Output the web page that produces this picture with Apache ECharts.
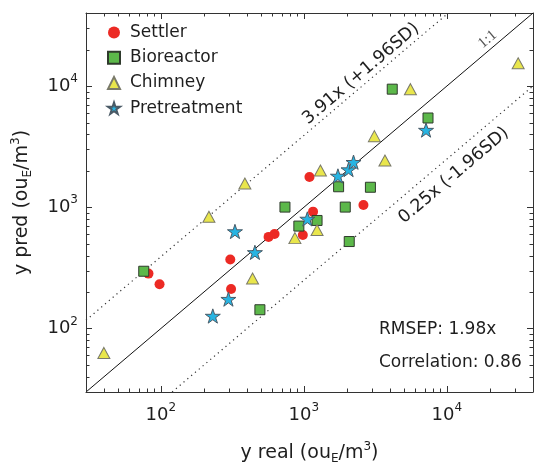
<!DOCTYPE html>
<html>
<head>
<meta charset="utf-8">
<script src="https://cdn.jsdelivr.net/npm/echarts@6/dist/echarts.min.js"></script>
<style>
  html, body { margin: 0; padding: 0; background: #fff; }
  #chart { width: 536px; height: 470px; }
</style>
</head>
<body>
<div id="chart"></div>
<script>
// Measured (real) vs. predicted odour concentration, ouE/m3, by process unit
const settlerReal = [82, 98, 306, 310, 567, 624, 984, 1095, 1160, 2610];
const settlerPred = [284, 232, 371, 212, 570, 603, 592, 1780, 921, 1046];

const bioreactorReal = [76, 493, 738, 923, 1237, 1750, 1948, 2077, 2920, 4150, 7380];
const bioreactorPred = [297, 143, 1004, 700, 779, 1477, 1004, 522, 1463, 9420, 5450];

const chimneyReal = [40, 217, 387, 438, 866, 1237, 1306, 3113, 3690, 5560, 31500];
const chimneyPred = [63, 836, 1571, 259, 557, 650, 2010, 3860, 2430, 9420, 15400];

const pretreatmentReal = [231, 297, 330, 455, 1058, 1731, 2054, 2225, 7150];
const pretreatmentPred = [127, 175, 632, 425, 802, 1814, 2048, 2355, 4335];

// Axis range and labelled decades (both axes share them)
const axisMin = 30;
const axisMax = 40000;
const decadeTicks = [100, 1000, 10000];

// Agreement band: +/-1.96 SD expressed as multiplicative factors
const upperRatio = 3.91;
const lowerRatio = 0.25;
const rmsep = '1.98x';
const correlation = '0.86';

const FONT = 'DejaVu Sans';
const INK = '#1e1e1e';
const STAR = 'path://M95.11,0L117.56,69.1L190.22,69.1L131.44,111.8L153.89,180.9L95.11,138.2L36.33,180.9L58.78,111.8L0,69.1L72.66,69.1Z';

function zip(a, b) { return a.map((v, i) => [v, b[i]]); }

// minor tick positions 2..9 x 10^n inside the axis range
const minorTicks = [];
for (let e = 1; e <= 4; e++) {
  for (let k = 2; k <= 9; k++) {
    const v = k * Math.pow(10, e);
    if (v > axisMin && v < axisMax) minorTicks.push(v);
  }
}
minorTicks.unshift(axisMin); // 3 x 10^1 sits exactly on the frame edge
const minorData = [];
minorTicks.forEach(v => { minorData.push([v, 0]); minorData.push([v, 1]); });

function decadeLabel(v) {
  const e = Math.log10(v);
  const r = Math.round(e);
  if (Math.abs(e - r) > 1e-6 || decadeTicks.indexOf(Math.pow(10, r)) < 0) return '';
  return '{b|10}{s|' + r + '}';
}

const tickRich = {
  b: { fontSize: 18, fontFamily: FONT, color: INK, lineHeight: 26 },
  s: { fontSize: 12, fontFamily: FONT, color: INK, verticalAlign: 'top' }
};
const nameRich = {
  b: { fontSize: 19, fontFamily: FONT, color: INK, lineHeight: 24 },
  sub: { fontSize: 12, fontFamily: FONT, color: INK, verticalAlign: 'bottom' },
  sup: { fontSize: 12, fontFamily: FONT, color: INK, verticalAlign: 'top' }
};

function logAxis(extra) {
  return Object.assign({
    type: 'log',
    logBase: 10,
    min: axisMin,
    max: axisMax,
    axisLine: { show: true, lineStyle: { color: '#333', width: 1 } },
    axisTick: { show: true, inside: true, length: 6, lineStyle: { color: '#333', width: 1 } },
    splitLine: { show: false },
    minorTick: { show: false },
    minorSplitLine: { show: false }
  }, extra);
}

function renderMinorTick(params, api) {
  const v = api.value(0);
  const onX = api.value(1) === 0;
  const cs = params.coordSys;
  const L = 3.5;
  const st = { stroke: '#333', lineWidth: 1 };
  if (onX) {
    const px = Math.round(api.coord([v, axisMin])[0]) + 0.5;
    const yb = cs.y + cs.height, yt = cs.y;
    return { type: 'group', children: [
      { type: 'line', shape: { x1: px, y1: yb, x2: px, y2: yb - L }, style: st },
      { type: 'line', shape: { x1: px, y1: yt, x2: px, y2: yt + L }, style: st }
    ] };
  }
  const py = Math.round(api.coord([axisMin, v])[1]) + 0.5;
  const xl = cs.x, xr = cs.x + cs.width;
  return { type: 'group', children: [
    { type: 'line', shape: { x1: xl, y1: py, x2: xl + L, y2: py }, style: st },
    { type: 'line', shape: { x1: xr, y1: py, x2: xr - L, y2: py }, style: st }
  ] };
}

function refLine(name, pts, style) {
  return {
    name: name, type: 'line', data: pts, symbol: 'none', silent: true,
    lineStyle: style, z: 1, animation: false, clip: true
  };
}

const option = {
  backgroundColor: '#fff',
  animation: false,
  grid: { left: 86, right: 0, top: 13, bottom: 71, containLabel: false },
  legend: {
    orient: 'vertical', left: 107, top: 24, padding: 0,
    itemWidth: 12, itemHeight: 12, itemGap: 8.2,
    data: ['Settler', 'Bioreactor', 'Chimney', 'Pretreatment'],
    textStyle: { fontFamily: FONT, fontSize: 17, color: INK, lineHeight: 17, padding: [0, 0, 0, 5] }
  },
  xAxis: [
    logAxis({
      position: 'bottom',
      axisLabel: { show: true, margin: 10, formatter: decadeLabel, rich: tickRich, showMinLabel: true, showMaxLabel: true },
      name: '{b|y real (ou}{sub|E}{b|/m}{sup|3}{b|)}',
      nameLocation: 'middle', nameGap: 49,
      nameTextStyle: { rich: nameRich }
    }),
    logAxis({ position: 'top', axisLabel: { show: false } })
  ],
  yAxis: [
    logAxis({
      position: 'left',
      axisLabel: { show: true, margin: 8, formatter: decadeLabel, rich: tickRich },
      name: '{b|y pred (ou}{sub|E}{b|/m}{sup|3}{b|)}',
      nameLocation: 'middle', nameGap: 52,
      nameTextStyle: { rich: nameRich }
    }),
    logAxis({ position: 'right', axisLabel: { show: false } })
  ],
  series: [
    refLine('1:1', [[axisMin, axisMin], [axisMax, axisMax]], { color: '#111', width: 1, type: 'solid' }),
    refLine('upper', [[axisMin, axisMin * upperRatio], [axisMax / upperRatio, axisMax]], { color: '#333', width: 1.2, type: [1.2, 3.8] }),
    refLine('lower', [[axisMin / lowerRatio, axisMin], [axisMax, axisMax * lowerRatio]], { color: '#333', width: 1.2, type: [1.2, 3.8] }),
    {
      name: 'minor ticks', type: 'custom', renderItem: renderMinorTick, data: minorData,
      silent: true, clip: false, z: 3, encode: { x: 0 }
    },
    {
      name: 'Settler', type: 'scatter', symbol: 'circle', symbolSize: 10,
      itemStyle: { color: '#ec2a24', borderWidth: 0, opacity: 1 },
      data: zip(settlerReal, settlerPred), z: 5
    },
    {
      name: 'Bioreactor', type: 'scatter', symbol: 'rect', symbolSize: 10,
      itemStyle: { color: '#5cb84a', borderColor: '#2f3a2c', borderWidth: 1, opacity: 1 },
      data: zip(bioreactorReal, bioreactorPred), z: 5
    },
    {
      name: 'Chimney', type: 'scatter', symbol: 'triangle', symbolSize: [12, 11],
      itemStyle: { color: '#e9e64c', borderColor: '#7a7a6a', borderWidth: 1, opacity: 1 },
      data: zip(chimneyReal, chimneyPred), z: 5
    },
    {
      name: 'Pretreatment', type: 'scatter', symbol: STAR, symbolSize: 15, symbolKeepAspect: true,
      itemStyle: { color: '#27b4e2', borderColor: '#4a5a66', borderWidth: 1, opacity: 1 },
      data: zip(pretreatmentReal, pretreatmentPred), z: 6
    }
  ]
};

const chart = echarts.init(document.getElementById('chart'));
chart.setOption(option);

// Annotations follow the reference lines; angle taken from the 1:1 line in pixel space
const a = chart.convertToPixel({ seriesIndex: 4 }, [axisMin, axisMin]);
const b = chart.convertToPixel({ seriesIndex: 4 }, [axisMax, axisMax]);
const rot = Math.atan2(a[1] - b[1], b[0] - a[0]);
const upperAt = chart.convertToPixel({ seriesIndex: 4 }, [2507, 12630]);
const lowerAt = chart.convertToPixel({ seriesIndex: 4 }, [11185, 1830]);
const unityAt = chart.convertToPixel({ seriesIndex: 4 }, [19270, 24270]);

function rotatedText(text, p, size, extra) {
  return {
    type: 'text', x: p[0], y: p[1], rotation: rot, silent: true, z: 10,
    style: Object.assign({
      text: text, fontSize: size, fontFamily: FONT, fill: INK,
      textAlign: 'center', textVerticalAlign: 'middle'
    }, extra || {})
  };
}

chart.setOption({
  graphic: [
    rotatedText(upperRatio.toFixed(2) + 'x (+1.96SD)', upperAt, 17.5),
    rotatedText(lowerRatio.toFixed(2) + 'x (-1.96SD)', lowerAt, 17.5),
    rotatedText('1:1', unityAt, 15, { fontFamily: 'Liberation Serif', fill: '#555' }),
    {
      type: 'text', left: 379, top: 321, silent: true,
      style: { text: 'RMSEP: ' + rmsep, fontSize: 17, fontFamily: FONT, fill: INK }
    },
    {
      type: 'text', left: 379, top: 354, silent: true,
      style: { text: 'Correlation: ' + correlation, fontSize: 17, fontFamily: FONT, fill: INK }
    }
  ]
});
</script>
</body>
</html>
